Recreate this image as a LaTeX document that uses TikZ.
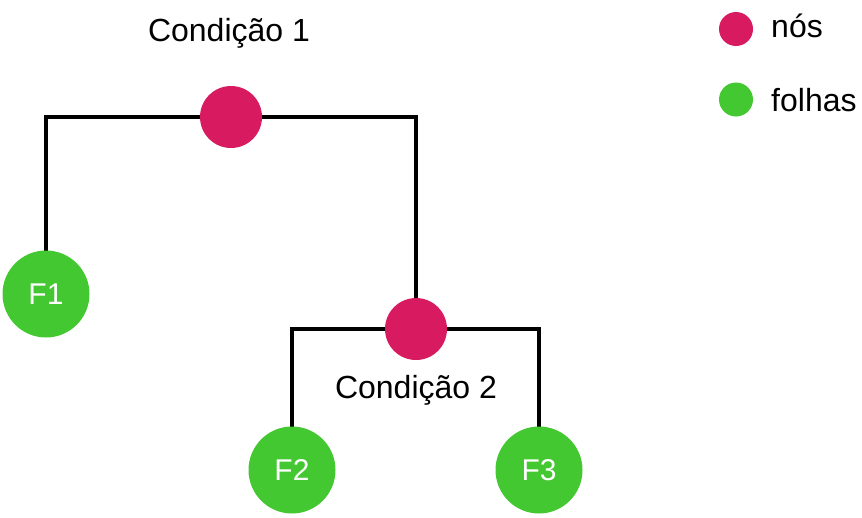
\documentclass[tikz,border=0pt]{standalone}
\usepackage{fontspec}
\setmainfont{Liberation Sans}
\usetikzlibrary{backgrounds}
\definecolor{nodepink}{RGB}{216,27,96}
\definecolor{leafgreen}{RGB}{68,200,50}
\tikzset{
  inner/.style={circle, fill=nodepink, minimum size=62pt, inner sep=0pt},
  leaf/.style={circle, fill=leafgreen, minimum size=87pt, inner sep=0pt, text=white, font=\fontsize{30}{36}\selectfont},
  legdot/.style={circle, minimum size=34pt, inner sep=0pt},
  lbl/.style={font=\fontsize{32}{38}\selectfont, inner sep=0pt},
  edge/.style={line width=4.5pt, black, line join=miter}
}
\begin{document}
\begin{tikzpicture}[x=1pt,y=-1pt]
\useasboundingbox (0,0) rectangle (862,517);
\node[inner] (n1) at (231,117) {};
\node[inner] (n2) at (416,329) {};
\node[leaf] (f1) at (46,294) {F1};
\node[leaf] (f2) at (292,470) {F2};
\node[leaf] (f3) at (539,470) {F3};
\node[lbl, anchor=base] (c1) at (229,41) {Condição 1};
\node[lbl, anchor=base] (c2) at (416,398) {Condição 2};
\node[legdot, fill=nodepink] (l1) at (736,29) {};
\node[legdot, fill=leafgreen] (l2) at (736,99.5) {};
\node[lbl, anchor=base west] (t1) at (771,37) {nós};
\node[lbl, anchor=base west] (t2) at (771,111) {folhas};
\begin{pgfonlayer}{background}
\draw[edge] (f1.center) |- (n1.center) -| (n2.center);
\draw[edge] (f2.center) |- (n2.center) -| (f3.center);
\end{pgfonlayer}
\end{tikzpicture}
\end{document}
